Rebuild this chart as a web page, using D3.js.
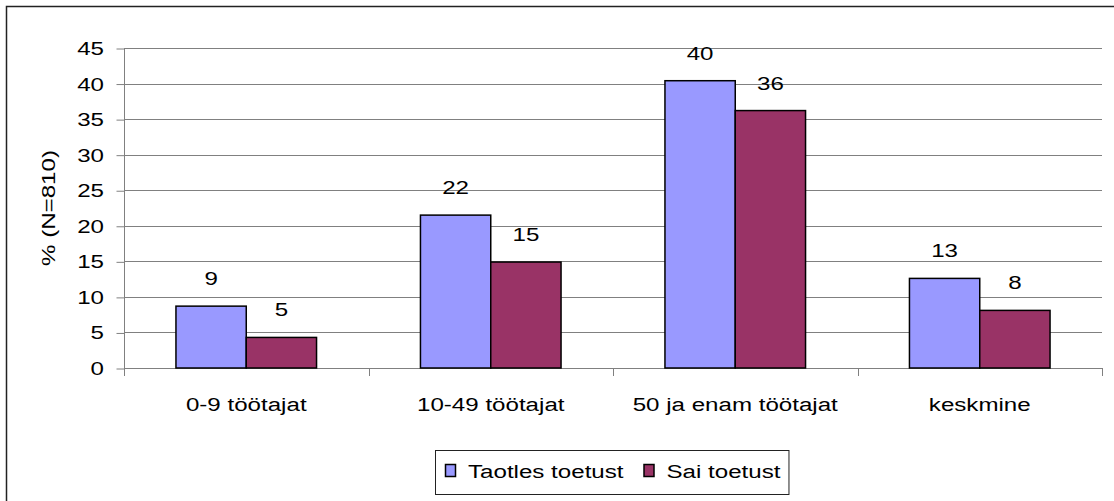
<!DOCTYPE html>
<html>
<head>
<meta charset="utf-8">
<script src="https://cdn.jsdelivr.net/npm/d3@7"></script>
<style>
  body { margin: 0; background: #fff; }
  svg text { font-family: Arial, "Liberation Sans", sans-serif; fill: #000; }
</style>
</head>
<body>
<svg id="chart" width="1114" height="501"></svg>
<script>
// datos del gráfico
const categories = ["0-9 töötajat", "10-49 töötajat", "50 ja enam töötajat", "keskmine"];
const seriesNames = ["Taotles toetust", "Sai toetust"];
const taotles = [8.7, 21.5, 40.4, 12.6];
const sai = [4.3, 14.9, 36.2, 8.1];
const taotlesLabels = ["9", "22", "40", "13"];
const saiLabels = ["5", "15", "36", "8"];
const yTicks = [0, 5, 10, 15, 20, 25, 30, 35, 40, 45];

const colors = ["#9999ff", "#993366"];
const fontSize = 19;
const sx = 1.27; // el texto original sale más ancho que Arial normal

const svg = d3.select("#chart"),
    width = +svg.attr("width"),
    height = +svg.attr("height");

const plot = { left: 124, right: 1102, top: 48, bottom: 368 };

// borde exterior del gráfico (se sale por la derecha y por abajo)
svg.append("rect")
    .attr("x", 6.5).attr("y", 6.5)
    .attr("width", width + 10).attr("height", height + 10)
    .attr("fill", "none").attr("stroke", "#222").attr("stroke-width", 1.5);

const x = d3.scaleBand().domain(categories).range([plot.left, plot.right]);
const y = d3.scaleLinear().domain([0, 45]).range([plot.bottom, plot.top]);

const groupW = x.bandwidth() * 0.575;
const xs = d3.scaleBand().domain(seriesNames).range([0, groupW]);

// helper: texto estirado horizontalmente
function stretchedText(g, tx, ty, str, anchor, rotate) {
    return g.append("text")
        .attr("transform", `translate(${tx},${ty})` + (rotate ? ` rotate(${rotate})` : "") + ` scale(${sx},1)`)
        .attr("text-anchor", anchor)
        .style("font-size", fontSize + "px")
        .text(str);
}

// líneas de la cuadrícula
svg.append("g").selectAll("line")
    .data(yTicks.filter(d => d > 0))
    .join("line")
    .attr("x1", plot.left).attr("x2", plot.right)
    .attr("y1", d => Math.round(y(d)) + 0.5).attr("y2", d => Math.round(y(d)) + 0.5)
    .attr("stroke", "#808080").attr("stroke-width", 1);

// eje Y
const yAxis = svg.append("g")
    .attr("transform", `translate(${plot.left + 0.5},0)`)
    .call(d3.axisLeft(y).tickValues(yTicks).tickSize(8).tickFormat(""));
yAxis.select(".domain").remove();
yAxis.selectAll("line").attr("stroke", "#808080").attr("transform", "translate(0,0.5)");
svg.append("line")
    .attr("x1", plot.left + 0.5).attr("x2", plot.left + 0.5)
    .attr("y1", plot.top).attr("y2", plot.bottom + 8)
    .attr("stroke", "#808080");

const yLabels = svg.append("g");
yTicks.forEach(t => stretchedText(yLabels, 104, y(t) + 7, String(t), "end"));

// eje X
svg.append("line")
    .attr("x1", plot.left).attr("x2", plot.right)
    .attr("y1", plot.bottom + 0.5).attr("y2", plot.bottom + 0.5)
    .attr("stroke", "#808080");
const xTicksPos = categories.map(c => x(c) + x.bandwidth());
svg.append("g").selectAll("line")
    .data(xTicksPos)
    .join("line")
    .attr("x1", d => Math.round(d) + 0.5).attr("x2", d => Math.round(d) + 0.5)
    .attr("y1", plot.bottom).attr("y2", plot.bottom + 8)
    .attr("stroke", "#808080");

const xLabels = svg.append("g");
categories.forEach(c => stretchedText(xLabels, x(c) + x.bandwidth() / 2, 411, c, "middle"));

// barras
const series = [
    { name: seriesNames[0], values: taotles, labels: taotlesLabels, color: colors[0] },
    { name: seriesNames[1], values: sai, labels: saiLabels, color: colors[1] }
];

const barsG = svg.append("g");
series.forEach(s => {
    categories.forEach((c, i) => {
        const bx = x(c) + (x.bandwidth() - groupW) / 2 + xs(s.name);
        barsG.append("rect")
            .attr("x", bx).attr("y", y(s.values[i]))
            .attr("width", xs.bandwidth()).attr("height", y(0) - y(s.values[i]))
            .attr("fill", s.color).attr("stroke", "#000").attr("stroke-width", 1.5);
        stretchedText(barsG, bx + xs.bandwidth() / 2, y(s.values[i]) - 21, s.labels[i], "middle");
    });
});

// título eje Y
stretchedText(svg, 55, (plot.top + plot.bottom) / 2, "% (N=810)", "middle", -90);

// leyenda
const legend = svg.append("g");
const legBox = legend.append("rect")
    .attr("x", 435.5).attr("y", 450.5).attr("height", 44)
    .attr("fill", "#fff").attr("stroke", "#222").attr("stroke-width", 1);
let lx = 445;
series.forEach(s => {
    legend.append("rect")
        .attr("x", lx + 0.5).attr("y", 464.5).attr("width", 10).attr("height", 12)
        .attr("fill", s.color).attr("stroke", "#000").attr("stroke-width", 1.5);
    const t = stretchedText(legend, lx + 23, 478, s.name, "start");
    lx += 23 + t.node().getComputedTextLength() * sx + 20;
});
legBox.attr("width", lx - 20 + 8 - 435);
</script>
</body>
</html>
